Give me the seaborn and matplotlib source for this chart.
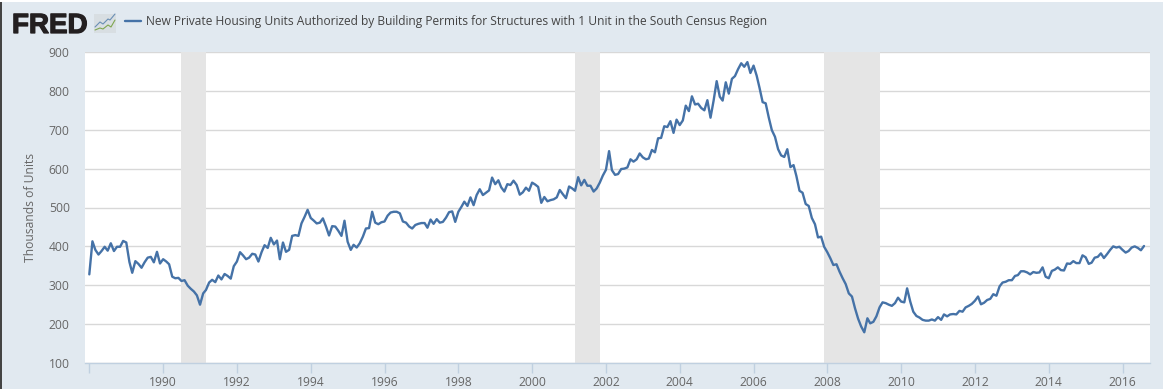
import matplotlib
matplotlib.use("Agg")
import matplotlib.pyplot as plt
import matplotlib.dates as mdates
import matplotlib.patheffects as pe
from matplotlib.patches import Rectangle
from matplotlib.lines import Line2D
import pandas as pd
import seaborn as sns

v1988 = [328,413,391,379,388,399,389,408,388,399,399,414]
v1989 = [410,360,332,362,355,345,359,371,373,359,386,356]
v1990 = [367,361,354,322,318,319,311,313,299,291,284,274]
v1991 = [250,279,288,307,314,308,325,315,329,324,317,349]
v1992 = [361,385,377,367,371,381,379,361,385,403,396,422]
v1993 = [405,415,367,410,386,391,427,429,427,459,476,494]
v1994 = [473,466,459,461,472,451,428,452,451,440,427,466]
v1995 = [412,391,404,397,408,425,446,447,489,461,457,462]
v1996 = [464,479,487,489,489,485,464,461,451,446,455,458]
v1997 = [460,460,448,469,458,470,461,463,474,488,490,463]
v1998 = [489,502,515,504,526,506,532,547,532,538,544,577]
v1999 = [560,570,552,541,560,558,569,558,533,539,551,543]
v2000 = [564,559,553,512,527,516,519,521,526,545,534,524]
v2001 = [554,549,543,578,557,571,556,556,541,549,564,582]
v2002 = [597,645,596,584,586,599,600,603,624,618,624,639]
v2003 = [629,624,626,648,642,678,679,709,707,722,692,726]
v2004 = [712,724,762,748,786,765,767,756,750,776,731,774]
v2005 = [825,785,775,822,793,831,838,856,871,862,874,846]
v2006 = [865,839,808,771,768,731,699,682,650,634,630,650]
v2007 = [604,609,581,543,538,509,504,473,457,423,425,399]
v2008 = [385,369,352,354,335,318,303,279,271,241,214,194]
v2009 = [179,215,202,206,220,243,256,254,250,247,254,268]
v2010 = [258,256,292,258,232,221,217,211,209,209,212,209]
v2011 = [218,211,225,220,225,226,225,234,232,243,247,252]
v2012 = [260,271,251,255,262,265,277,273,297,307,309,313]
v2013 = [313,324,326,336,336,333,328,334,332,333,346,322]
v2014 = [318,337,340,346,339,338,356,355,362,357,357,377]
v2015 = [372,355,358,371,373,382,370,380,391,400,397,399]
v2016 = [391,384,388,397,400,396,390,401]

values = (v1988+v1989+v1990+v1991+v1992+v1993+v1994+v1995+v1996+v1997+v1998+v1999
          +v2000+v2001+v2002+v2003+v2004+v2005+v2006+v2007+v2008+v2009+v2010
          +v2011+v2012+v2013+v2014+v2015+v2016)
dates = pd.date_range("1988-01-01", periods=len(values), freq="MS")
recessions = [("1990-07-01","1991-03-01"),("2001-03-01","2001-11-01"),("2007-12-01","2009-06-01")]
y_ticks = [100,200,300,400,500,600,700,800,900]
x_years = [1988,1990,1992,1994,1996,1998,2000,2002,2004,2006,2008,2010,2012,2014,2016]
title = "New Private Housing Units Authorized by Building Permits for Structures with 1 Unit in the South Census Region"
y_label = "Thousands of Units"

sns.set_theme(style="white")
plt.rcParams["font.family"] = ["Open Sans", "DejaVu Sans"]

W, H = 1163, 389
BG = "#e1e9f0"
fig = plt.figure(figsize=(W/100, H/100), dpi=100, facecolor=BG)
ax = fig.add_axes([85/W, 1-363/H, (1150-85)/W, (363-52)/H])
ax.set_facecolor("white")

df = pd.DataFrame({"date": dates, "value": values})
sns.lineplot(data=df, x="date", y="value", ax=ax, color="#4572a7", linewidth=1.7,
             estimator=None, errorbar=None, zorder=3)

for a, b in recessions:
    ax.axvspan(pd.Timestamp(a), pd.Timestamp(b), color="#e5e5e5", lw=0, zorder=1)

ax.set_ylim(100, 900)
px_year = 36.9
d0 = mdates.date2num(pd.Timestamp("1988-01-01"))
px_day = px_year/365.25
ax.set_xlim(d0-(89.3-85)/px_day, d0+(1150-89.3)/px_day)

ax.set_yticks(y_ticks)
ax.set_xticks([pd.Timestamp(f"{y}-01-01") for y in x_years])
ax.set_xticklabels(["" if y == 1988 else str(y) for y in x_years])
ax.grid(axis="y", color="#d8d8d8", lw=1, zorder=0)
ax.grid(axis="x", visible=False)
ax.set_axisbelow(True)
for s in ["top", "left", "right"]:
    ax.spines[s].set_visible(False)
ax.spines["bottom"].set_color("#c0d0e0")
ax.spines["bottom"].set_linewidth(1)
ax.tick_params(axis="x", length=7, width=1, color="#c0d0e0", labelcolor="#666666",
               labelsize=8.7, pad=2, bottom=True)
ax.tick_params(axis="y", length=0, labelcolor="#666666", labelsize=8.7, pad=11, left=False)
ax.set_xlabel("")
ax.set_ylabel("")
fig.text(30/W, 1-207/H, y_label, rotation=90, ha="center", va="center",
         color="#666666", fontsize=8.7)

# header
fig.add_artist(Line2D([125/W, 141/W], [1-21/H, 1-21/H], color="#4572a7", lw=1.7))
fig.text(146/W, 1-21/H, title, ha="left", va="center", color="#444444", fontsize=8.68)

# FRED logo
fig.text(12/W, 1-33/H, "FRED", ha="left", va="baseline", color="#231f20",
         fontsize=20, fontweight="bold", family=["Liberation Sans", "DejaVu Sans"],
         path_effects=[pe.withStroke(linewidth=0.9, foreground="#231f20")])
fig.add_artist(Rectangle((94/W, 1-33/H), 22/W, 19/H, transform=fig.transFigure,
                         facecolor="#d8dee2", edgecolor="none"))
fig.add_artist(Line2D([95/W, 100/W, 103/W, 108/W, 110/W, 115/W],
                      [1-27/H, 1-22/H, 1-24/H, 1-19/H, 1-20/H, 1-14/H], color="#6a8fb5", lw=0.8))
fig.add_artist(Line2D([95/W, 100/W, 103/W, 108/W, 111/W, 115/W],
                      [1-30/H, 1-28/H, 1-29/H, 1-25/H, 1-27/H, 1-20/H], color="#7fa650", lw=0.8))
# screenshot edges
fig.add_artist(Rectangle((0, 0), 2/W, 1, transform=fig.transFigure, facecolor="#444444", edgecolor="none"))
fig.add_artist(Rectangle((0, 1-2/H), 1, 2/H, transform=fig.transFigure, facecolor="white", edgecolor="none"))

fig.savefig("out.png", dpi=100, facecolor=BG)
